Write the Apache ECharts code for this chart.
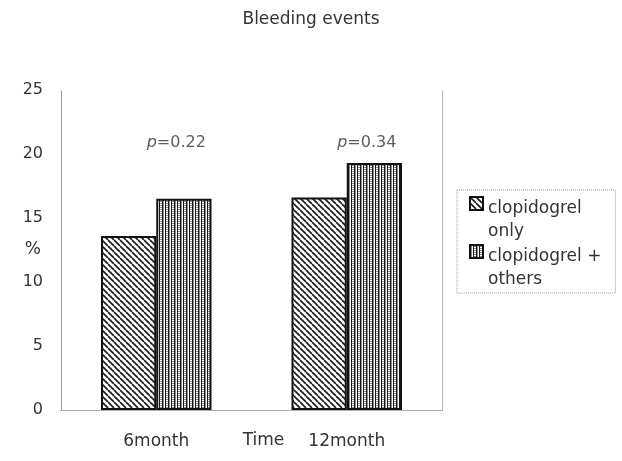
<!DOCTYPE html>
<html>
<head>
<meta charset="utf-8">
<script src="https://cdn.jsdelivr.net/npm/echarts@6/dist/echarts.min.js"></script>
<style>
    html, body { margin: 0; padding: 0; background: #fff; }
    #chart { width: 622px; height: 461px; }
</style>
</head>
<body>
<div id="chart"></div>
<script>
const categories = ["6month", "12month"];
const onlyValues = [13.6, 16.6];
const othersValues = [16.5, 19.3];
const pValues = ["0.22", "0.34"];
const pLabelLevel = [20.9, 20.9];

const FONT = "DejaVu Sans";

/* ===========================
   Patterns
=========================== */

function hatchPattern() {
    const c = document.createElement("canvas");
    c.width = 6;
    c.height = 6;
    const ctx = c.getContext("2d");
    ctx.fillStyle = "#fff";
    ctx.fillRect(0, 0, 6, 6);
    ctx.strokeStyle = "#1a1a1a";
    ctx.lineWidth = 1.6;
    ctx.beginPath();
    for (let k = -6; k <= 12; k += 6) {
        ctx.moveTo(k, 0);
        ctx.lineTo(k + 6, 6);
    }
    ctx.stroke();
    return c;
}

function stripePattern() {
    const c = document.createElement("canvas");
    c.width = 6;
    c.height = 4;
    const ctx = c.getContext("2d");
    ctx.fillStyle = "#fff";
    ctx.fillRect(0, 0, 6, 4);
    ctx.fillStyle = "#1a1a1a";
    ctx.fillRect(0, 0, 1.5, 4);
    ctx.fillRect(3, 0, 1, 4);
    ctx.fillRect(4.5, 1, 1, 1);
    ctx.fillRect(4.5, 3, 1, 1);
    return c;
}

// square at the top of a taller box, so the icon sits on the first text line
const LEGEND_ICON = "path://M0,0H13V13H0Z M0,46";

const chart = echarts.init(document.getElementById("chart"));

chart.setOption({
    animation: false,
    title: {
        text: "Bleeding events",
        left: "center",
        top: 6,
        textStyle: { fontFamily: FONT, fontSize: 17, fontWeight: "normal", color: "#333" }
    },
    legend: {
        data: ["clopidogrel\nonly", "clopidogrel +\nothers"],
        orient: "vertical",
        left: 457,
        top: 190,
        padding: [6, 14, 1, 12],
        icon: LEGEND_ICON,
        itemWidth: 13,
        itemHeight: 46,
        itemGap: 0,
        borderColor: "#999",
        borderWidth: 1,
        borderType: "dotted",
        textStyle: { fontFamily: FONT, fontSize: 17, color: "#333", lineHeight: 23 }
    },
    grid: {
        left: 61,
        right: 180,
        top: 90,
        bottom: 51,
        outerBoundsMode: "none",
        containLabel: false
    },
    xAxis: [{
        type: "category",
        data: categories,
        name: "Time",
        nameLocation: "middle",
        nameGap: 22,
        nameMoveOverlap: false,
        nameTextStyle: { fontFamily: FONT, fontSize: 17, color: "#333", padding: [0, 0, 0, 24] },
        axisLine: { lineStyle: { color: "#888", type: "dotted" } },
        axisTick: { show: false },
        axisLabel: { fontFamily: FONT, fontSize: 17, color: "#333", margin: 23 }
    }, {
        type: "category",
        data: categories,
        position: "top",
        axisLine: { show: true, lineStyle: { color: "#aaa", type: "dotted" } },
        axisTick: { show: false },
        axisLabel: { show: false }
    }],
    yAxis: [{
        type: "value",
        min: 0,
        max: 25,
        interval: 5,
        name: "%",
        nameLocation: "middle",
        nameRotate: 0,
        nameGap: 20,
        nameMoveOverlap: false,
        nameTextStyle: { fontFamily: FONT, fontSize: 17, color: "#333" },
        axisLine: { show: true, lineStyle: { color: "#888", type: "dotted" } },
        axisTick: { show: false },
        splitLine: { show: false },
        axisLabel: { fontFamily: FONT, fontSize: 16, color: "#333", margin: 18 }
    }, {
        type: "value",
        min: 0,
        max: 25,
        interval: 5,
        position: "right",
        axisLine: { show: true, lineStyle: { color: "#aaa", type: "dotted" } },
        axisTick: { show: false },
        splitLine: { show: false },
        axisLabel: { show: false }
    }],
    series: [{
        name: "clopidogrel\nonly",
        type: "bar",
        data: onlyValues,
        barGap: "0%",
        barCategoryGap: "42%",
        itemStyle: {
            color: { image: hatchPattern(), repeat: "repeat" },
            borderColor: "#111",
            borderWidth: 2
        }
    }, {
        name: "clopidogrel +\nothers",
        type: "bar",
        data: othersValues,
        itemStyle: {
            color: { image: stripePattern(), repeat: "repeat" },
            borderColor: "#111",
            borderWidth: 2
        }
    }, {
        name: "p",
        type: "scatter",
        data: pLabelLevel,
        symbolSize: 0,
        silent: true,
        label: {
            show: true,
            position: "inside",
            offset: [20, 0],
            formatter: (p) => "{i|p}=" + pValues[p.dataIndex],
            fontFamily: FONT,
            fontSize: 16,
            color: "#333",
            rich: {
                i: { fontFamily: FONT, fontSize: 16, fontStyle: "italic", color: "#333" }
            }
        }
    }]
});
</script>
</body>
</html>
